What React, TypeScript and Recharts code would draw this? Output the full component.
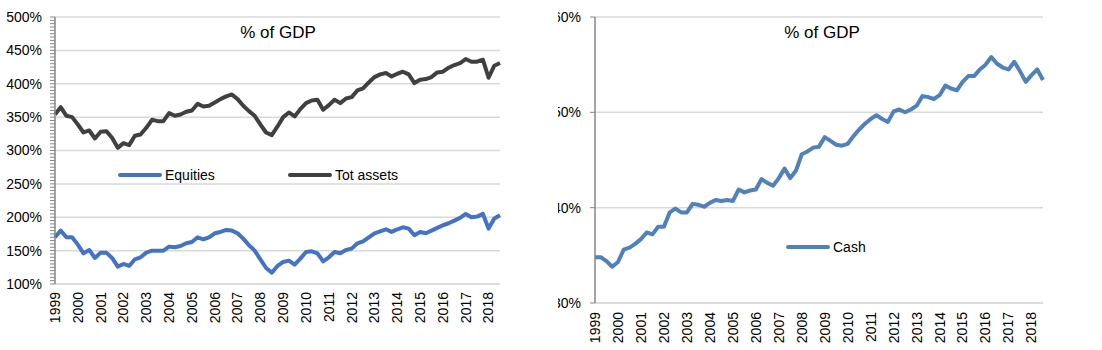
import { LineChart, Line, XAxis, YAxis, CartesianGrid, Legend } from 'recharts'

const YEARS = ['1999', '2000', '2001', '2002', '2003', '2004', '2005', '2006', '2007', '2008',
  '2009', '2010', '2011', '2012', '2013', '2014', '2015', '2016', '2017', '2018']

// quarterly, 1999Q1 .. 2018Q3
const QUARTERS = YEARS.flatMap((y) => ['Q1', 'Q2', 'Q3', 'Q4'].map((q) => `${y}${q}`)).slice(0, 79)
const YEAR_TICKS = YEARS.map((y) => `${y}Q1`)

const EQUITIES = [
  170, 180, 170, 170, 159, 146, 151, 139, 147, 147,
  139, 126, 130, 127, 137, 140, 147, 150, 150, 150,
  156, 155, 157, 161, 163, 170, 167, 170, 176, 178,
  181, 180, 176, 168, 158, 150, 137, 124, 117, 127,
  133, 135, 129, 138, 148, 149, 146, 134, 140, 148,
  146, 151, 153, 161, 164, 170, 176, 179, 182, 178,
  182, 185, 183, 173, 178, 176, 180, 184, 188, 191,
  195, 199, 205, 200, 201, 205, 183, 198, 203,
]

const TOT_ASSETS = [
  354, 365, 352, 350, 339, 327, 330, 318, 328, 329,
  319, 304, 311, 308, 322, 324, 334, 346, 344, 344,
  356, 352, 354, 358, 360, 370, 366, 367, 372, 377,
  381, 384, 377, 367, 359, 352, 339, 327, 323, 336,
  350, 357, 351, 362, 371, 375, 376, 361, 368, 376,
  371, 378, 380, 390, 393, 402, 410, 414, 416, 411,
  415, 418, 414, 401, 406, 407, 410, 417, 418, 424,
  428, 431, 437, 433, 433, 436, 409, 427, 431,
]

const CASH = [
  34.8, 34.8, 34.4, 33.8, 34.3, 35.6, 35.8, 36.2, 36.7, 37.4,
  37.2, 38.0, 38.0, 39.5, 39.9, 39.5, 39.5, 40.4, 40.3, 40.1,
  40.5, 40.8, 40.7, 40.8, 40.7, 41.9, 41.6, 41.8, 41.9, 43.0,
  42.6, 42.3, 43.1, 44.1, 43.1, 43.9, 45.6, 45.9, 46.3, 46.4,
  47.4, 47.0, 46.6, 46.5, 46.7, 47.5, 48.2, 48.8, 49.3, 49.7,
  49.3, 49.0, 50.1, 50.3, 50.0, 50.3, 50.7, 51.7, 51.6, 51.4,
  51.8, 52.8, 52.5, 52.3, 53.2, 53.8, 53.8, 54.5, 55.0, 55.8,
  55.1, 54.7, 54.5, 55.3, 54.3, 53.2, 53.9, 54.5, 53.4,
]

const LEFT_MAJOR = [100, 150, 200, 250, 300, 350, 400, 450, 500]
const LEFT_MINOR: number[] = []
for (let v = 100; v <= 500; v += 5) LEFT_MINOR.push(v)
const RIGHT_TICKS = [30, 40, 50, 60]

const data = QUARTERS.map((q, i) => ({
  q,
  equities: EQUITIES[i],
  tot: TOT_ASSETS[i],
  cash: CASH[i],
}))

const FONT = '"Liberation Sans", Arial, sans-serif'
const AXIS_GREY = '#868686'
const GRID_GREY = '#d9d9d9'

const YearTick = ({ x, y, payload }: any) => (
  <text
    x={x}
    y={y}
    dy="0.35em"
    textAnchor="end"
    transform={`rotate(-90, ${x}, ${y})`}
    fontSize={14}
    fontFamily={FONT}
    fill="#000"
  >
    {String(payload.value).slice(0, 4)}
  </text>
)

const LeftTick = ({ x, y, payload }: any) =>
  payload.value % 50 === 0 ? (
    <text x={x} y={y} dy="0.35em" textAnchor="end" fontSize={14} fontFamily={FONT} fill="#000">
      {payload.value}%
    </text>
  ) : null

const RightTick = ({ x, y, payload }: any) => (
  <text x={x} y={y} dy="0.35em" textAnchor="end" fontSize={14} fontFamily={FONT} fill="#000">
    {payload.value}%
  </text>
)

const LegendRow = ({ payload, itemWidth }: any) => (
  <div style={{ display: 'flex', fontFamily: FONT, fontSize: 14, color: '#000', lineHeight: '20px' }}>
    {(payload || []).map((p: any) => (
      <div key={p.value} style={{ display: 'flex', alignItems: 'center', width: itemWidth }}>
        <svg width={46} height={8} style={{ marginRight: 2 }}>
          <line x1={3} y1={4} x2={43} y2={4} stroke={p.color} strokeWidth={4} strokeLinecap="round" />
        </svg>
        <span>{p.value}</span>
      </div>
    ))}
  </div>
)

const titleStyle = (center: number): React.CSSProperties => ({
  position: 'absolute',
  top: 23,
  left: center - 60,
  width: 120,
  textAlign: 'center',
  fontFamily: FONT,
  fontSize: 17,
  color: '#000',
  pointerEvents: 'none',
})

export default function App() {
  return (
    <div style={{ position: 'absolute', left: 0, top: 0, width: 1102, height: 350, background: '#fff' }}>
      {/* left panel: equities and total assets */}
      <div style={{ position: 'absolute', left: 0, top: 0 }}>
        <LineChart width={510} height={350} data={data} margin={{ top: 17, right: 10, bottom: 10, left: 0 }}>
          <CartesianGrid vertical={false} horizontalValues={LEFT_MAJOR} stroke={GRID_GREY} strokeWidth={1.5} />
          <XAxis
            dataKey="q"
            ticks={YEAR_TICKS}
            interval={0}
            height={56}
            tickLine={false}
            tickSize={0}
            tickMargin={8}
            axisLine={{ stroke: GRID_GREY, strokeWidth: 1.5 }}
            tick={<YearTick />}
          />
          <YAxis
            domain={[100, 500]}
            ticks={LEFT_MINOR}
            interval={0}
            width={55}
            tickSize={5}
            tickMargin={8}
            stroke={AXIS_GREY}
            axisLine={{ stroke: AXIS_GREY, strokeWidth: 1.5 }}
            tickLine={{ stroke: AXIS_GREY }}
            tick={<LeftTick />}
          />
          <Legend
            layout="horizontal"
            verticalAlign="middle"
            align="center"
            wrapperStyle={{ top: 165, left: 117, width: 340 }}
            content={(props: any) => <LegendRow {...props} itemWidth={214} />}
          />
          <Line
            name="Equities"
            dataKey="equities"
            stroke="#4472c4"
            strokeWidth={4}
            dot={false}
            strokeLinejoin="round"
            isAnimationActive={false}
          />
          <Line
            name="Tot assets"
            dataKey="tot"
            stroke="#404040"
            strokeWidth={4}
            dot={false}
            strokeLinejoin="round"
            isAnimationActive={false}
          />
        </LineChart>
        <div style={titleStyle(278)}>% of GDP</div>
      </div>

      {/* right panel: cash, labels clipped at the panel edge */}
      <div style={{ position: 'absolute', left: 558, top: 0, width: 544, height: 350, overflow: 'hidden' }}>
        <div style={{ position: 'absolute', left: -18, top: 0 }}>
          <LineChart width={513} height={350} data={data} margin={{ top: 17, right: 10, bottom: 10, left: 0 }}>
            <CartesianGrid vertical={false} horizontalValues={RIGHT_TICKS} stroke={GRID_GREY} strokeWidth={1.5} />
            <XAxis
              dataKey="q"
              ticks={YEAR_TICKS}
              interval={0}
              height={37}
              tickLine={false}
              tickSize={0}
              tickMargin={9}
              axisLine={{ stroke: GRID_GREY, strokeWidth: 1.5 }}
              tick={<YearTick />}
            />
            <YAxis
              domain={[30, 60]}
              ticks={RIGHT_TICKS}
              interval={0}
              width={55}
              tickSize={5}
              tickMargin={9}
              stroke={AXIS_GREY}
              axisLine={{ stroke: AXIS_GREY, strokeWidth: 1.5 }}
              tickLine={{ stroke: AXIS_GREY }}
              tick={<RightTick />}
            />
            <Legend
              layout="horizontal"
              verticalAlign="middle"
              align="center"
              wrapperStyle={{ top: 237, left: 245, width: 120 }}
              content={(props: any) => <LegendRow {...props} itemWidth={120} />}
            />
            <Line
              name="Cash"
              dataKey="cash"
              stroke="#4f81bd"
              strokeWidth={4}
              dot={false}
              strokeLinejoin="round"
              isAnimationActive={false}
            />
          </LineChart>
          <div style={titleStyle(822 - 540)}>% of GDP</div>
        </div>
      </div>
    </div>
  )
}
